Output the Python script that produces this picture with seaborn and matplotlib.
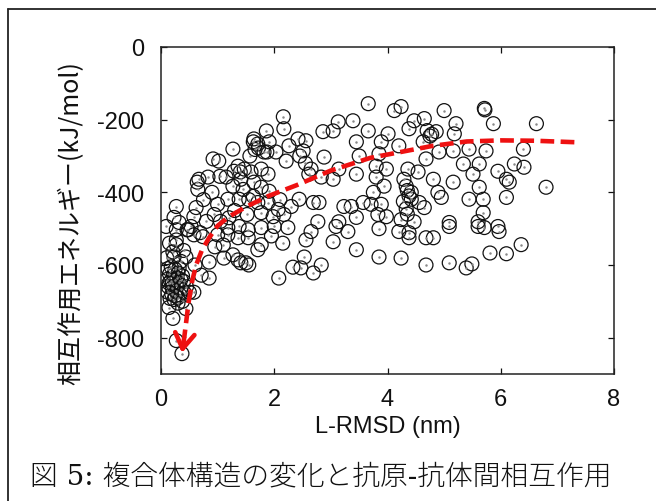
import matplotlib
matplotlib.use("Agg")
import matplotlib.pyplot as plt
import matplotlib.lines as mlines
import pandas as pd
import seaborn as sns

# L-RMSD (nm) and interaction energy (kJ/mol) of each sampled complex
rmsd = [
    # near-native cluster
    0.12, 0.18, 0.25, 0.32, 0.15, 0.22, 0.30, 0.38, 0.10, 0.17, 0.24, 0.31, 0.40,
    0.13, 0.20, 0.27, 0.35, 0.45, 0.12, 0.19, 0.26, 0.33, 0.42, 0.16, 0.23, 0.30,
    0.38, 0.20, 0.28, 0.35, 0.14, 0.25, 0.50,
    0.14, 0.21, 0.44, 0.27, 0.37, 0.30,
    0.27, 0.62, 0.23, 0.58, 0.32, 0.53, 0.09, 0.27, 0.48, 0.58, 0.74, 0.27, 0.27,
    0.23, 0.44, 0.21, 0.46, 0.69, 0.85, 0.85, 0.71, 0.58, 0.40, 0.35, 0.60, 0.15,
    0.10,
    # 0.6 - 2.4 nm
    0.83, 0.67, 0.65, 1.02, 1.27, 1.36, 1.29, 1.47, 1.59, 1.77, 1.89, 1.15, 1.41,
    1.64, 1.45, 1.77, 1.63, 1.91, 1.18, 1.38, 1.00, 1.71, 1.89, 2.07, 2.30, 0.94,
    1.52, 1.77, 1.98, 2.17, 0.92, 1.57, 1.63, 1.87, 1.40, 1.27, 0.64, 1.04,
    2.16, 2.17, 1.86, 1.64, 1.71, 1.91, 1.82, 2.03, 2.26, 2.21, 1.72, 1.66,
    1.18, 1.38, 1.54, 1.77, 2.00, 2.24, 1.11, 1.27, 1.41, 1.55, 1.71, 1.54, 1.36,
    1.18, 1.00, 1.77, 1.36, 1.50, 2.08, 2.33, 1.20, 1.05, 0.80, 1.30, 0.75, 0.90,
    1.55, 2.10, 2.15, 1.95, 0.95, 1.10,
    # 2.4 - 4.7 nm
    3.66, 4.12, 4.24, 4.47, 4.65, 3.13, 3.39, 2.86, 3.04, 3.66, 4.01, 4.38, 2.56,
    2.42, 3.45, 3.89, 4.20, 4.63, 2.51, 2.88, 3.50, 3.85, 4.68, 2.65, 2.61, 3.14,
    3.80, 3.98, 4.36, 4.54, 2.83, 3.04, 3.45, 3.80, 4.29, 3.94, 4.33, 3.75, 4.42,
    2.44, 2.69, 2.79, 3.23, 3.36, 3.57, 3.71, 3.89, 4.28, 4.42, 4.56, 4.65, 2.77,
    3.14, 3.45, 3.98, 4.24, 4.47, 3.83, 4.35, 4.38, 4.33, 4.35, 2.45, 2.55,
    2.56, 2.65, 2.53, 2.47, 2.69, 2.83, 3.04, 3.09, 3.30, 3.45, 3.85, 3.85, 4.24,
    4.20, 4.38, 4.38, 4.68, 4.68,
    # beyond 4.7 nm
    5.71, 5.00, 5.21, 5.87, 6.63, 4.86, 5.18, 5.44, 4.91, 5.16, 5.74, 6.40, 5.34,
    5.62, 5.95, 6.24, 6.41, 6.10, 6.15, 5.51, 4.81, 5.16, 6.80, 5.62, 4.89, 4.95,
    5.44, 5.69, 6.10, 5.69, 5.60, 5.09, 5.95,
    4.81, 5.09, 5.09, 5.39, 5.49, 5.60, 5.71, 5.97, 5.81, 6.10, 6.36,
    5.72, 4.78, 4.75, 4.70,
]
energy = [
    -610, -605, -612, -608, -625, -628, -622, -630, -640, -645, -640, -648, -645,
    -660, -662, -655, -665, -660, -675, -680, -672, -682, -678, -692, -695, -690,
    -700, -650, -635, -640, -650, -685, -675,
    -717, -747, -720, -808, -844, -705,
    -439, -442, -469, -467, -483, -494, -494, -503, -503, -517, -522, -531, -544,
    -578, -578, -564, -503, -511, -592, -636, -628, -675, -560, -590, -600, -540,
    -580,
    -358, -364, -392, -314, -281, -328, -342, -336, -344, -336, -350, -358, -364,
    -372, -392, -386, -411, -397, -419, -419, -433, -428, -428, -447, -439, -461,
    -461, -456, -467, -461, -308, -300, -261, -289, -344, -383, -372, -356,
    -192, -225, -231, -253, -267, -261, -289, -289, -272, -314, -278, -282,
    -497, -494, -503, -497, -494, -497, -581, -572, -594, -600, -558, -525, -525,
    -517, -517, -544, -586, -594, -636, -606, -470, -480, -480, -450, -420, -400,
    -420, -420, -540, -520, -550, -545,
    -156, -175, -164, -203, -197, -206, -203, -233, -231, -231, -239, -225, -258,
    -253, -261, -261, -272, -261, -286, -303, -300, -294, -308, -336, -350, -336,
    -328, -336, -336, -344, -358, -364, -350, -358, -364, -383, -383, -400, -400,
    -419, -428, -428, -439, -439, -428, -433, -433, -425, -419, -428, -442, -481,
    -481, -469, -467, -475, -481, -461, -395, -410, -445, -460, -300, -320,
    -531, -508, -578, -608, -622, -600, -536, -494, -508, -558, -500, -578, -581,
    -508, -511, -525, -600, -525,
    -169, -175, -211, -211, -211, -233, -239, -281, -289, -286, -286, -281, -322,
    -322, -342, -322, -331, -364, -372, -350, -364, -372, -386, -386, -400, -414,
    -419, -419, -414, -456, -481, -483, -494,
    -525, -494, -594, -608, -597, -494, -497, -508, -567, -569, -544,
    -173, -240, -245, -230,
]

# Trend line guiding the eye toward the near-native minimum
trend_rmsd = [7.30, 6.60, 6.00, 5.40, 4.80, 4.20, 3.70, 3.00, 2.40, 1.90, 1.50,
              1.20, 1.00, 0.85, 0.72, 0.62, 0.55, 0.49, 0.45, 0.41]
trend_energy = [-262, -258, -257, -260, -272, -290, -305, -340, -380, -410, -440,
                -467, -492, -525, -560, -600, -645, -700, -750, -800]
arrow_tip = (0.37, -842)

x_ticks = [0, 2, 4, 6, 8]
y_ticks = [0, -200, -400, -600, -800]

df = pd.DataFrame({"rmsd": rmsd, "energy": energy})

sns.set_style("ticks")
plt.rcParams["font.family"] = ["Liberation Sans", "Noto Sans CJK JP"]
plt.rcParams["axes.unicode_minus"] = False

fig = plt.figure(figsize=(6.56, 5.02), dpi=100)
ax = fig.add_axes([161 / 656, 1 - 375 / 502, 453 / 656, 327 / 502])

sns.scatterplot(data=df, x="rmsd", y="energy", ax=ax, marker="o",
                s=100, facecolors="none", edgecolor="#111111", linewidth=0.9,
                zorder=2)
ax.scatter(df["rmsd"], df["energy"], s=0.6, color="#888888", zorder=2)

ax.plot(trend_rmsd, trend_energy, color="#ee1111", lw=3.3,
        linestyle=(0, (3.0, 1.4)), solid_capstyle="butt",
        dash_capstyle="butt", zorder=3)
ax.annotate("", xy=arrow_tip, xytext=(trend_rmsd[-1], trend_energy[-1]),
            arrowprops=dict(arrowstyle="->,head_length=0.55,head_width=0.35",
                            color="#ee1111", lw=3.3, shrinkA=0, shrinkB=0,
                            mutation_scale=20),
            zorder=3)

ax.set_xlim(0, 8)
ax.set_ylim(-900, 0)
ax.set_xticks(x_ticks)
ax.set_yticks(y_ticks)
ax.tick_params(direction="in", length=4, width=0.9, top=True, right=True,
               labelsize=17, colors="#111111", pad=10)
ax.tick_params(axis="y", pad=12)
for sp in ax.spines.values():
    sp.set_visible(True)
    sp.set_linewidth(1.1)
    sp.set_color("#222222")

ax.set_xlabel("L-RMSD (nm)", fontsize=17, labelpad=4, color="#111111")
ax.set_ylabel("相互作用エネルギー(kJ/mol)", fontsize=18, color="#111111",
              family=["Noto Sans CJK JP", "Liberation Sans"])
ax.yaxis.set_label_coords(-0.17, 0.465)

# Caption and frame
fig.text(30 / 656, 1 - 477 / 502, "図 5: 複合体構造の変化と抗原-抗体間相互作用",
         fontsize=20, ha="left", va="center", color="#111111",
         fontweight="light",
         family=["DejaVu Serif", "Noto Sans CJK JP"])
fig.add_artist(mlines.Line2D([8 / 656, 8 / 656], [0, 1 - 10 / 502],
                             transform=fig.transFigure, color="#222222", lw=1.3))
fig.add_artist(mlines.Line2D([8 / 656, 1], [1 - 10 / 502, 1 - 10 / 502],
                             transform=fig.transFigure, color="#222222", lw=1.3))

fig.savefig("out.png", dpi=100)
